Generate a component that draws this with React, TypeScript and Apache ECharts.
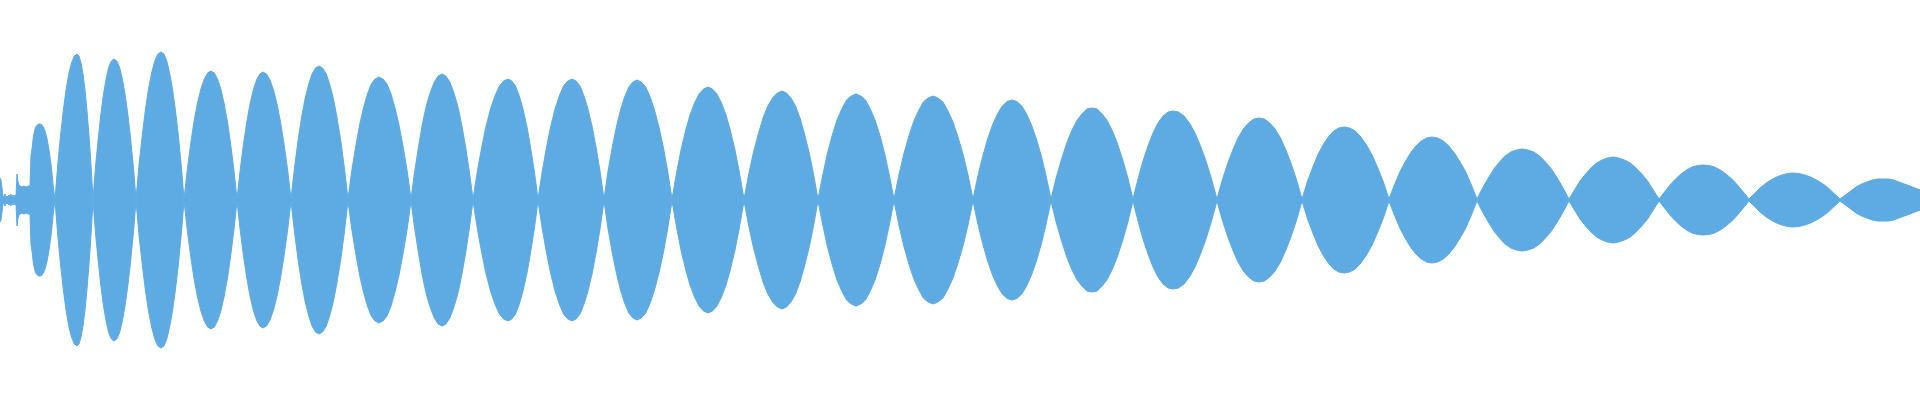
import React, { useEffect, useRef } from "react";
import * as echarts from "echarts";

// Sample positions along the horizontal axis (0..1920); one row per lobe of the envelope.
const positions: number[] = [
  0, 1, 2, 3, 4, 5, 6, 7, 8, 9, 10, 11, 12, 13, 14, 15, 16, 17, 18, 19, 20, 22, 24, 26, 28, 30,
  30.5, 31, 32.3, 33.3, 35, 36, 37.3, 38.5, 40, 41.5, 43.3, 45, 46.7, 48, 49.3, 50.5, 51.7, 52.5, 53.3, 54, 55,
  57.75, 60.5, 63.25, 66, 68.75, 71.5, 74.25, 77, 79, 81, 83, 85, 87, 89, 91, 93,
  95.6, 98.3, 100.9, 103.5, 106.1, 108.8, 111.4, 114, 116.8, 119.5, 122.3, 125, 127.8, 130.5, 133.3, 136,
  139.1, 142.3, 145.4, 148.5, 151.6, 154.8, 157.9, 161, 163.9, 166.8, 169.6, 172.5, 175.4, 178.3, 181.1, 184,
  187.4, 190.8, 194.1, 197.5, 200.9, 204.3, 207.6, 211, 214.3, 217.5, 220.8, 224, 227.3, 230.5, 233.8, 237,
  240.3, 243.5, 246.8, 250, 253.3, 256.5, 259.8, 263, 266.5, 270, 273.5, 277, 280.5, 284, 287.5, 291,
  294.5, 298, 301.5, 305, 308.5, 312, 315.5, 319, 322.6, 326.3, 329.9, 333.5, 337.1, 340.8, 344.4, 348,
  351.9, 355.8, 359.6, 363.5, 367.4, 371.3, 375.1, 379, 383, 387, 391, 395, 399, 403, 407, 411,
  414.9, 418.8, 422.6, 426.5, 430.4, 434.3, 438.1, 442, 445.9, 449.8, 453.6, 457.5, 461.4, 465.3, 469.1, 473,
  477.4, 481.8, 486.1, 490.5, 494.9, 499.3, 503.6, 508, 511.8, 515.5, 519.3, 523, 526.8, 530.5, 534.3, 538,
  542.3, 546.5, 550.8, 555, 559.3, 563.5, 567.8, 572, 576, 580, 584, 588, 592, 596, 600, 604,
  608.1, 612.3, 616.4, 620.5, 624.6, 628.8, 632.9, 637, 641.4, 645.8, 650.1, 654.5, 658.9, 663.3, 667.6, 672,
  676.5, 681, 685.5, 690, 694.5, 699, 703.5, 708, 712.5, 717, 721.5, 726, 730.5, 735, 739.5, 744,
  748.8, 753.5, 758.3, 763, 767.8, 772.5, 777.3, 782, 786.5, 791, 795.5, 800, 804.5, 809, 813.5, 818,
  822.8, 827.5, 832.3, 837, 841.8, 846.5, 851.3, 856, 860.8, 865.5, 870.3, 875, 879.8, 884.5, 889.3, 894,
  898.9, 903.8, 908.6, 913.5, 918.4, 923.3, 928.1, 933, 938, 943, 948, 953, 958, 963, 968, 973,
  977.9, 982.8, 987.6, 992.5, 997.4, 1002.3, 1007.1, 1012, 1016.9, 1021.8, 1026.6, 1031.5, 1036.4, 1041.3, 1046.1, 1051,
  1056.1, 1061.3, 1066.4, 1071.5, 1076.6, 1081.8, 1086.9, 1092, 1097.1, 1102.3, 1107.4, 1112.5, 1117.6, 1122.8, 1127.9, 1133,
  1138, 1143, 1148, 1153, 1158, 1163, 1168, 1173, 1178.5, 1184, 1189.5, 1195, 1200.5, 1206, 1211.5, 1217,
  1222.3, 1227.5, 1232.8, 1238, 1243.3, 1248.5, 1253.8, 1259, 1264.4, 1269.8, 1275.1, 1280.5, 1285.9, 1291.3, 1296.6, 1302,
  1307.3, 1312.5, 1317.8, 1323, 1328.3, 1333.5, 1338.8, 1344, 1349.6, 1355.3, 1360.9, 1366.5, 1372.1, 1377.8, 1383.4, 1389,
  1394.4, 1399.8, 1405.1, 1410.5, 1415.9, 1421.3, 1426.6, 1432, 1437.6, 1443.3, 1448.9, 1454.5, 1460.1, 1465.8, 1471.4, 1477,
  1482.6, 1488.3, 1493.9, 1499.5, 1505.1, 1510.8, 1516.4, 1522, 1527.9, 1533.8, 1539.6, 1545.5, 1551.4, 1557.3, 1563.1, 1569,
  1574.5, 1580, 1585.5, 1591, 1596.5, 1602, 1607.5, 1613, 1618.8, 1624.5, 1630.3, 1636, 1641.8, 1647.5, 1653.3, 1659,
  1664.5, 1670, 1675.5, 1681, 1686.5, 1692, 1697.5, 1703, 1708.8, 1714.5, 1720.3, 1726, 1731.8, 1737.5, 1743.3, 1749,
  1754.5, 1760, 1765.5, 1771, 1776.5, 1782, 1787.5, 1793, 1798.9, 1804.8, 1810.6, 1816.5, 1822.4, 1828.3, 1834.1, 1840,
  1845.4, 1850.8, 1856.1, 1861.5, 1866.9, 1872.3, 1877.6, 1883, 1888.4, 1893.8, 1899, 1904.5, 1910, 1915, 1920,
];

// Envelope amplitude read at each position (the waveform is mirrored about zero).
const amplitudes: number[] = [
  22, 20, 12, 4, 3, 6, 3, 4, 3, 5, 3, 6, 3, 5, 3, 5, 4, 26, 18, 15, 14, 13, 14, 13, 14, 14,
  30, 45, 53, 63, 71, 73.5, 75, 76, 76, 75.5, 73, 69, 63, 56, 48, 39, 30, 21, 13, 7, 1,
  35, 64, 89, 110, 126, 137, 144, 146, 144, 137, 126, 110, 89, 64, 35, 1,
  34, 62, 86, 106, 121, 133, 139, 141, 139, 133, 121, 106, 86, 62, 34, 1,
  36, 65, 90, 111, 127, 139, 146, 148, 146, 139, 127, 111, 90, 65, 36, 1,
  31, 57, 79, 97, 111, 121, 127, 129, 127, 121, 111, 97, 79, 57, 31, 1,
  31, 56, 78, 96, 110, 120, 126, 128, 126, 120, 110, 96, 78, 56, 31, 1,
  32, 59, 82, 101, 115, 126, 132, 134, 132, 126, 115, 101, 82, 59, 32, 1,
  30, 54, 75, 92, 106, 116, 121, 123, 121, 116, 106, 92, 75, 54, 30, 1,
  30, 55, 77, 95, 108, 118, 124, 126, 124, 118, 108, 95, 77, 55, 30, 1,
  29, 53, 74, 91, 104, 114, 119, 121, 119, 114, 104, 91, 74, 53, 29, 1,
  29, 53, 74, 91, 104, 114, 119, 121, 119, 114, 104, 91, 74, 53, 29, 1,
  29, 53, 73, 90, 103, 113, 118, 120, 118, 113, 103, 90, 73, 53, 29, 1,
  27, 50, 69, 85, 97, 106, 111, 113, 111, 106, 97, 85, 69, 50, 27, 1,
  26, 48, 66, 82, 94, 102, 107, 109, 107, 102, 94, 82, 66, 48, 26, 1,
  25, 47, 65, 80, 91, 100, 104, 106, 104, 100, 91, 80, 65, 47, 25, 1,
  25, 46, 63, 78, 89, 98, 102, 104, 102, 98, 89, 78, 63, 46, 25, 1,
  24, 44, 61, 75, 86, 94, 98.5, 100, 98.5, 94, 86, 75, 61, 44, 24, 1,
  22, 40, 56, 69, 79, 86, 91, 92, 91, 86, 79, 69, 56, 40, 22, 1,
  21, 39, 54, 67, 77, 84, 88, 89, 88, 84, 77, 67, 54, 39, 21, 1,
  20, 36, 50, 62, 71, 77, 81, 82, 81, 77, 71, 62, 50, 36, 20, 1,
  18, 32, 45, 55, 63, 69, 72, 73, 72, 69, 63, 55, 45, 32, 18, 1,
  15, 28, 38, 47, 54, 59, 62, 63, 62, 59, 54, 47, 38, 28, 15, 1,
  12, 22, 31, 38, 44, 48, 50, 51, 50, 48, 44, 38, 31, 22, 12, 1,
  10, 19, 26, 32, 37, 40, 42, 43, 42, 40, 37, 32, 26, 19, 10, 1,
  8, 15, 21, 26, 30, 33, 34.5, 35, 34.5, 33, 30, 26, 21, 15, 8, 1,
  6.5, 12, 16.5, 20, 23, 25, 26.5, 27, 26.5, 25, 23, 20, 16.5, 12, 6.5, 1,
  5, 9, 13, 16, 18, 20, 21, 21, 21, 20, 18, 16, 14, 12, 10,
];

const FILL = "#5dabe2";

export default function App() {
  const ref = useRef<HTMLDivElement>(null);

  useEffect(() => {
    if (!ref.current) return;
    const chart = echarts.init(ref.current, undefined, { renderer: "svg" });
    const upper = positions.map((x, i) => [x, amplitudes[i]]);
    const lower = positions.map((x, i) => [x, -amplitudes[i]]);
    const common = {
      type: "line" as const,
      showSymbol: false,
      symbol: "none",
      smooth: false,
      silent: true,
      lineStyle: { color: FILL, width: 1 },
      itemStyle: { color: FILL },
      areaStyle: { color: FILL, opacity: 1 },
    };
    chart.setOption({
      animation: false,
      backgroundColor: "#ffffff",
      grid: { left: 0, right: 0, top: 0, bottom: 0, containLabel: false },
      xAxis: { type: "value", min: 0, max: 1920, show: false },
      yAxis: { type: "value", min: -200, max: 200, show: false },
      series: [
        { ...common, name: "upper", data: upper },
        { ...common, name: "lower", data: lower },
      ],
    });
    return () => chart.dispose();
  }, []);

  return (
    <div
      ref={ref}
      style={{ position: "fixed", left: 0, top: 0, width: 1920, height: 400 }}
    />
  );
}
